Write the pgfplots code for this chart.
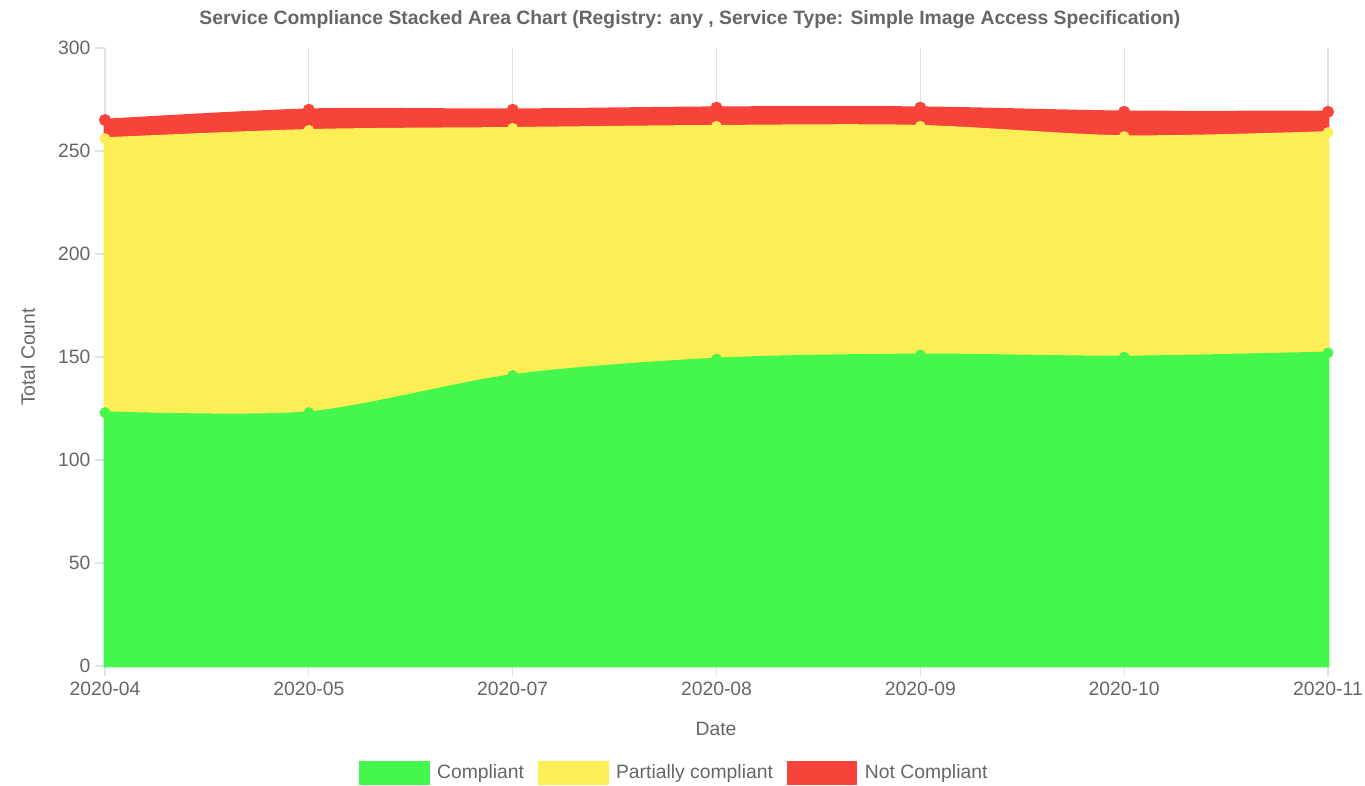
\documentclass[border=0pt]{standalone}
\usepackage{pgfplots}
\pgfplotsset{compat=1.18}
\usepackage{fontspec}
\setmainfont{Liberation Sans}
\definecolor{cgreen}{RGB}{69,247,76}
\definecolor{cyellow}{RGB}{252,238,84}
\definecolor{cred}{RGB}{248,67,58}
\definecolor{txt}{RGB}{102,102,102}
\definecolor{gridc}{RGB}{226,226,226}

\begin{document}
\begin{tikzpicture}[x=0.75pt,y=0.75pt]
\path[use as bounding box] (0,0) rectangle (1365,786);
\begin{axis}[
    at={(78.75pt,90pt)}, anchor=south west,
    scale only axis, width=917.25pt, height=463.5pt,
    xmin=0, xmax=6, ymin=0, ymax=300,
    stack plots=y,
    xtick={0,...,6},
    xticklabels={2020-04,2020-05,2020-07,2020-08,2020-09,2020-10,2020-11},
    ytick={0,50,...,300},
    xmajorgrids, grid style={gridc, line width=0.9pt},
    axis x line*=bottom, axis y line*=left,
    axis line style={gridc, line width=0.9pt},
    tick align=outside, major tick length=7.5pt,
    tick style={gridc, line width=0.9pt},
    ticklabel style={font=\fontsize{14.5}{17}\selectfont, text=txt},
    xticklabel style={yshift=-1pt},
    /pgf/number format/assume math mode=true,
    clip=false,
    legend columns=3,
    legend style={at={(0.466,-0.173)}, anchor=center, draw=none,
        font=\fontsize{14.5}{17}\selectfont, text=txt,
        /tikz/every odd column/.append style={column sep=4pt},
        /tikz/every even column/.append style={column sep=9pt}},
    legend image code/.code={\draw[#1, line width=0pt] (0pt,-8.5pt) rectangle (52pt,8.5pt);},
  ]

  % Compliant
  \addplot[smooth, fill=cgreen, draw=cgreen, line width=2pt,
      mark=*, mark size=3pt, mark options={fill=cgreen, draw=cgreen}]
    coordinates {(0,123) (1,123) (2,141) (3,149) (4,151) (5,150) (6,152)} \closedcycle;
  \addlegendentry{Compliant}

  % Partially compliant
  \addplot[smooth, fill=cyellow, draw=cyellow, line width=2pt,
      mark=*, mark size=3pt, mark options={fill=cyellow, draw=cyellow}]
    coordinates {(0,133) (1,137) (2,120) (3,113) (4,111) (5,107) (6,107)} \closedcycle;
  \addlegendentry{Partially compliant}

  % Not compliant
  \addplot[smooth, fill=cred, draw=cred, line width=2pt,
      mark=*, mark size=3.5pt, mark options={fill=cred, draw=cred}]
    coordinates {(0,9) (1,10) (2,9) (3,9) (4,9) (5,12) (6,10)} \closedcycle;
  \addlegendentry{Not Compliant}

\end{axis}
\node[font=\bfseries\fontsize{14.5}{17}\selectfont, text=txt] at (690,766)
  {Service Compliance Stacked Area Chart (Registry: any , Service Type: Simple Image Access Specification)};
\node[rotate=90, font=\fontsize{14.5}{17}\selectfont, text=txt] at (28,429) {Total Count};
\node[font=\fontsize{14.5}{17}\selectfont, text=txt] at (716,57) {Date};
\end{tikzpicture}
\end{document}
